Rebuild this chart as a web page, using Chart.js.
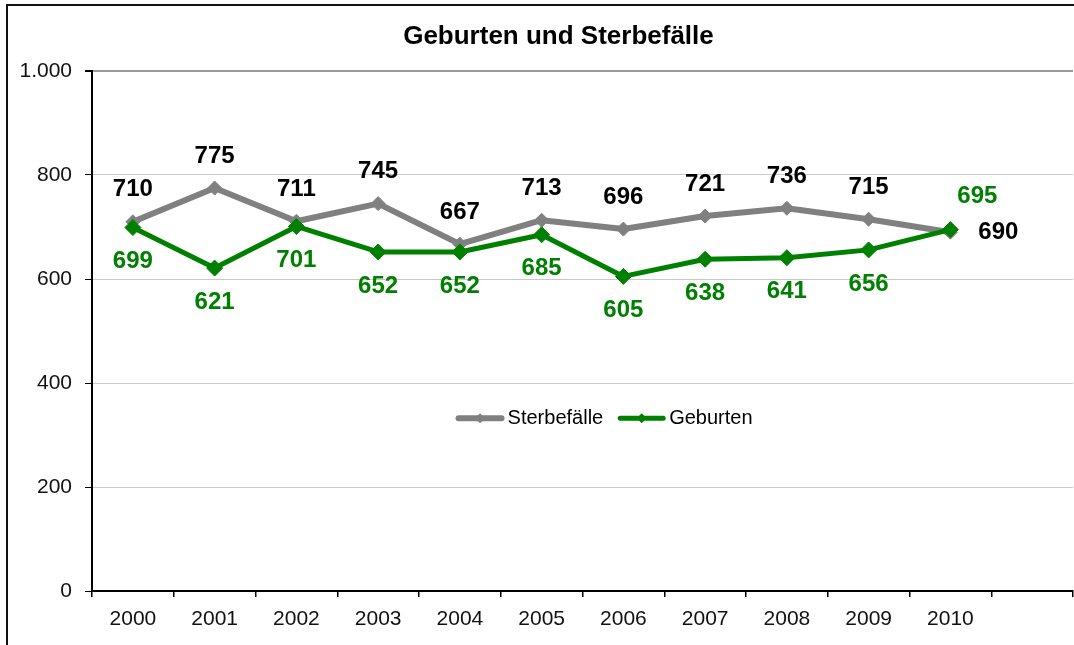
<!DOCTYPE html>
<html>
<head>
<meta charset="utf-8">
<script src="https://cdn.jsdelivr.net/npm/chart.js@4/dist/chart.umd.min.js"></script>
<style>
  html, body { margin: 0; padding: 0; background: #fff; overflow: hidden; }
  #wrap { position: relative; width: 1074px; height: 645px; overflow: hidden; }
  #frame { position: absolute; left: 6px; top: 4px; width: 1200px; height: 800px;
           border-left: 2px solid #111; border-top: 2px solid #111; }
  #chart { position: absolute; left: 0; top: 0; }
</style>
</head>
<body>
<div id="wrap">
  <div id="frame"></div>
  <canvas id="chart" width="1082" height="645"></canvas>
</div>
<script>
// --- Daten ---
const jahre = ['2000', '2001', '2002', '2003', '2004', '2005', '2006', '2007', '2008', '2009', '2010', ''];
const sterbefaelle = [710, 775, 711, 745, 667, 713, 696, 721, 736, 715, 690];
const geburten = [699, 621, 701, 652, 652, 685, 605, 638, 641, 656, 695];
const yTicks = [0, 200, 400, 600, 800, 1000];

const TITEL = 'Geburten und Sterbefälle';
const FONT = '"Liberation Sans", Arial, sans-serif';
const GRAU = '#808080';
const GRUEN = '#008000';

Chart.defaults.font.family = FONT;

// Titel (zentriert über dem ganzen Diagramm, nicht nur über dem Ausschnitt)
const titlePlugin = {
    id: 'titel',
    afterDraw(chart) {
        const ctx = chart.ctx;
        const a = chart.chartArea;
        ctx.save();
        ctx.font = 'bold 26px ' + FONT;
        ctx.fillStyle = '#000';
        ctx.textAlign = 'center';
        ctx.textBaseline = 'middle';
        ctx.fillText(TITEL, a.left + (a.right - a.left) * 0.4755, 37);
        ctx.restore();
    }
};

// Datenbeschriftungen
const labelPlugin = {
    id: 'werte',
    afterDatasetsDraw(chart) {
        const ctx = chart.ctx;
        ctx.save();
        ctx.font = 'bold 24px ' + FONT;
        ctx.textAlign = 'center';
        ctx.textBaseline = 'middle';
        chart.data.datasets.forEach((ds, di) => {
            const meta = chart.getDatasetMeta(di);
            const last = ds.data.length - 1;
            ctx.fillStyle = ds.labelColor;
            meta.data.forEach((pt, i) => {
                let dx = 0, dy = ds.labelPos === 'oben' ? -32 : 34;
                if (i === last) {
                    if (ds.labelPos === 'oben') { dx = 48; dy = 0; }
                    else { dx = 27; dy = -33; }
                }
                ctx.fillText(String(ds.data[i]), pt.x + dx, pt.y + dy);
            });
        });
        ctx.restore();
    }
};

// Legende innerhalb der Zeichenfläche
const legendPlugin = {
    id: 'legendeInnen',
    afterDraw(chart) {
        const ctx = chart.ctx;
        const a = chart.chartArea;
        const items = chart.data.datasets;
        ctx.save();
        ctx.font = '20px ' + FONT;
        ctx.textBaseline = 'middle';
        const lineLen = 49, gap = 3, itemGap = 14;
        let total = 0;
        items.forEach((ds, i) => {
            total += lineLen + gap + ctx.measureText(ds.label).width + (i < items.length - 1 ? itemGap : 0);
        });
        let x = a.left + (a.right - a.left) * 0.522 - total / 2;
        const y = a.top + (a.bottom - a.top) * 0.668;
        items.forEach(ds => {
            ctx.strokeStyle = ds.borderColor;
            ctx.lineWidth = ds.borderWidth;
            ctx.lineCap = 'round';
            ctx.beginPath();
            ctx.moveTo(x + 3, y);
            ctx.lineTo(x + lineLen - 3, y);
            ctx.stroke();
            const cx = x + lineLen / 2, r = 5;
            ctx.fillStyle = ds.borderColor;
            ctx.beginPath();
            ctx.moveTo(cx, y - r); ctx.lineTo(cx + r, y); ctx.lineTo(cx, y + r); ctx.lineTo(cx - r, y);
            ctx.closePath();
            ctx.fill();
            x += lineLen + gap;
            ctx.fillStyle = '#000';
            ctx.fillText(ds.label, x, y);
            x += ctx.measureText(ds.label).width + itemGap;
        });
        ctx.restore();
    }
};

new Chart(document.getElementById('chart').getContext('2d'), {
    type: 'line',
    data: {
        labels: jahre,
        datasets: [
            {
                label: 'Sterbefälle', data: sterbefaelle, order: 2,
                borderColor: GRAU, backgroundColor: GRAU, borderWidth: 6,
                borderJoinStyle: 'round', borderCapStyle: 'round',
                pointStyle: 'rectRot', pointRadius: 7, pointBorderWidth: 1,
                pointBackgroundColor: GRAU, pointBorderColor: GRAU,
                tension: 0, labelPos: 'oben', labelColor: '#000'
            },
            {
                label: 'Geburten', data: geburten, order: 1,
                borderColor: GRUEN, backgroundColor: GRUEN, borderWidth: 5,
                borderJoinStyle: 'round', borderCapStyle: 'round',
                pointStyle: 'rectRot', pointRadius: 8, pointBorderWidth: 1,
                pointBackgroundColor: GRUEN, pointBorderColor: GRUEN,
                tension: 0, labelPos: 'unten', labelColor: GRUEN
            }
        ]
    },
    options: {
        responsive: false,
        animation: false,
        layout: { padding: { left: 0, right: 2, top: 71, bottom: 0 } },
        scales: {
            x: {
                offset: true,
                grid: { offset: true, drawOnChartArea: false, drawTicks: true, tickLength: 6, tickColor: '#000', lineWidth: 1.5 },
                border: { color: '#000', width: 2 },
                ticks: { color: '#111', font: { size: 21 }, padding: 10, maxRotation: 0, autoSkip: false },
                afterFit(scale) { scale.height = 54; }
            },
            y: {
                min: 0, max: 1000,
                afterBuildTicks(scale) { scale.ticks = yTicks.map(v => ({ value: v })); },
                grid: {
                    color: c => c.tick && c.tick.value === 1000 ? '#9a9a9a' : '#c8c8c8',
                    lineWidth: c => c.tick && c.tick.value === 1000 ? 2 : 1,
                    tickLength: 7, tickColor: '#000'
                },
                border: { color: '#000', width: 2 },
                ticks: {
                    color: '#111', font: { size: 21 }, padding: 13,
                    callback: v => v.toLocaleString('de-DE')
                },
                afterFit(scale) { scale.width = 92; }
            }
        },
        plugins: {
            legend: { display: false },
            title: { display: false },
            tooltip: { enabled: false }
        }
    },
    plugins: [titlePlugin, labelPlugin, legendPlugin]
});
</script>
</body>
</html>
